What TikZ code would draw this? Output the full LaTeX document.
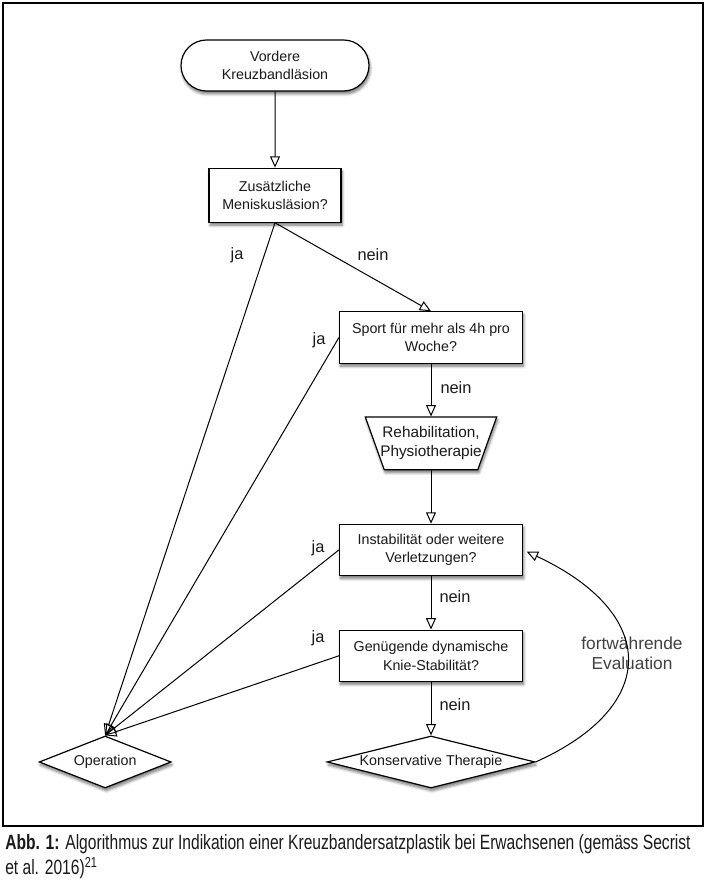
\documentclass[tikz,border=0pt]{standalone}
\usepackage{fontspec}
\setmainfont{Liberation Sans}
\newfontfamily\capfont[FakeStretch=0.755]{Liberation Sans}
\usepackage{tikz}
\usetikzlibrary{shapes.geometric, shapes.misc, arrows.meta, positioning, shadows.blur}

\newcommand{\zerowd}[1]{\makebox[0pt]{#1}}

\begin{document}
\begin{tikzpicture}[
  x=0.75pt, y=-0.75pt,
  node distance = 40pt,
  >={Triangle[open, length=8.5pt, width=7.5pt]},
  every node/.style={font=\fontsize{10.7}{13.7}\selectfont, text=black!90},
  shade/.style={blur shadow={shadow xshift=0.8pt, shadow yshift=-2.2pt, shadow blur steps=6, shadow opacity=55}},
  box/.style={draw, line width=0.9pt, fill=white, shade, align=center, inner sep=0pt,
    minimum width=137.25pt, minimum height=38.5pt},
  term/.style={rounded rectangle, draw, line width=0.9pt, fill=white, shade, align=center,
    inner sep=0pt, minimum width=141pt, minimum height=38.25pt},
  trap/.style={trapezium, trapezium angle=63.5, shape border rotate=180, trapezium stretches body,
    draw, line width=0.9pt, fill=white, shade, inner sep=0pt, minimum width=98.5pt, minimum height=39.5pt,
    font=\fontsize{11.5}{14.2}\selectfont},
  dec/.style={diamond, draw, line width=0.9pt, fill=white, shade, inner sep=0pt, minimum height=39pt},
  flow/.style={->, line width=0.75pt},
  lbl/.style={font=\fontsize{12.3}{15}\selectfont},
  evallbl/.style={font=\fontsize{13}{15}\selectfont, align=center, text=black!75}
]
  \useasboundingbox (0,0) rectangle (711,881);
  % ----- frame -----
  \draw[line width=1.2pt] (3,3) rectangle (703,826);
  % ----- top nodes -----
  \node[term] (start) at (275,65.5) {Vordere\\Kreuzbandläsion};
  \node[box, below=57pt of start, minimum width=99pt, minimum height=40.5pt] (menisk) {Zusätzliche\\Meniskusläsion?};
  % ----- right column -----
  \node[box] (sport) at (431,337.5) {Sport für mehr als 4h pro\\Woche?};
  \node[trap, below=39.5pt of sport] (rehab) {\zerowd{\begin{tabular}{@{}c@{}}Rehabilitation,\\Physiotherapie\end{tabular}}};
  \node[box, below=of rehab] (instab) {Instabilität oder weitere\\Verletzungen?};
  \node[box, below=of instab] (knie) {Genügende dynamische\\Knie-Stabilität?};
  \node[dec, below=of knie, minimum width=156pt] (kons) {\zerowd{Konservative Therapie}};
  \node[dec, left=116pt of kons, minimum width=99pt] (op) {\zerowd{Operation}};
  % ----- flow arrows -----
  \draw[flow] (start) -- (menisk);
  \draw[flow] (menisk.south) -- (sport.north);
  \draw[flow] (sport) -- (rehab);
  \draw[flow] (rehab) -- (instab);
  \draw[flow] (instab) -- (knie);
  \draw[flow] (knie) -- (kons);
  % ----- all "ja" branches lead to the operation -----
  \draw[flow] (menisk.south) -- (op.north);
  \draw[flow] (sport.west) -- (op.north);
  \draw[flow] (instab.west) -- (op.north);
  \draw[flow] (knie.west) -- (op.north);
  % ----- edge labels -----
  \node[lbl] (ja1) at (237,255) {ja};
  \node[lbl] (nein1) at (373,255) {nein};
  \node[lbl] (ja2) at (319,340) {ja};
  \node[lbl] (nein2) at (456,388) {nein};
  \node[lbl] (ja3) at (318,548) {ja};
  \node[lbl] (nein3) at (455,597) {nein};
  \node[lbl] (ja4) at (318,638) {ja};
  \node[lbl] (nein4) at (455,705) {nein};
  % ----- feedback loop -----
  \node[evallbl] (evaltxt) at (632,653) {fortwährende\\Evaluation};
  \draw[flow, shorten >=3pt] (kons.east) .. controls +(125,-56) and +(135,63) .. (instab.east);
  % ----- caption -----
  \node[anchor=north west, align=left, inner sep=0pt, text=black!90,
    font=\capfont\fontsize{15.5}{19}\selectfont] (caption) at (5,834)
    {\textbf{Abb. 1:} Algorithmus zur Indikation einer Kreuzbandersatzplastik bei Erwachsenen (gemäss Secrist\\et al. 2016)\textsuperscript{21}};
\end{tikzpicture}
\end{document}
